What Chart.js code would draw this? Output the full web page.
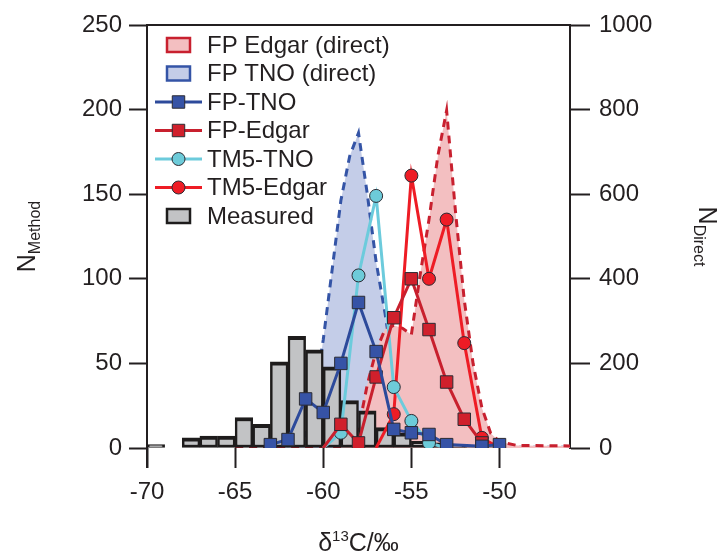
<!DOCTYPE html>
<html><head><meta charset="utf-8">
<script src="https://cdn.jsdelivr.net/npm/chart.js@4.4.1/dist/chart.umd.min.js"></script>
<style>html,body{margin:0;padding:0;background:#fff;}#wrap{width:724px;height:556px;}</style>
</head><body><div id="wrap"><canvas id="c" width="724" height="556"></canvas></div>
<script>
// ---- tick labels ----
const xTicks = [-70, -65, -60, -55, -50];
const yLeftTicks = [0, 50, 100, 150, 200, 250];
const yRightTicks = [0, 200, 400, 600, 800, 1000];

// ---- Measured histogram (1 ‰ bins, centres) ----
const binCenters = [-69.5, -68.5, -67.5, -66.5, -65.5, -64.5, -63.5, -62.5, -61.5, -60.5,
                    -59.5, -58.5, -57.5, -56.5, -55.5, -54.5, -53.5, -52.5, -51.5, -50.5];
const measured   = [2, 0, 6, 7, 7, 18, 14, 51, 66, 58,
                    48, 28, 22, 12, 9, 4, 3, 2, 1, 1];

// ---- method series (left axis) ----
const fpTNOx   = [-63, -62, -61, -60, -59, -58, -57, -56, -55, -54, -53, -51, -50];
const fpTNO    = [2, 5, 29, 21, 50, 86, 57, 11, 9, 8, 2, 1, 2];
const fpEdgarX = [-60, -59, -58, -57, -56, -55, -54, -53, -52, -51];
const fpEdgar  = [0, 14, 3, 42, 77, 100, 70, 39, 17, 3];
const tm5TNOx  = [-60, -59, -58, -57, -56, -55, -54, -53];
const tm5TNO   = [0, 9, 102, 149, 36, 16, 3, 0];
const tm5EdgarX = [-57, -56, -55, -54, -53, -52, -51, -50];
const tm5Edgar  = [0, 20, 161, 100, 135, 62, 6, 0];

// ---- direct series (right axis) ----
const directTNOx = [-65, -63, -62, -61, -60.5, -60, -59.5, -59, -58.5, -58, -57.5, -57, -56.5,
                    -56, -55.5, -55, -54, -53, -52, -50, -46];
const directTNO  = [0, 0, 3, 30, 120, 256, 420, 585, 690, 745, 600, 440, 320,
                    180, 80, 35, 12, 5, 3, 2, 2];
const directEdgarX = [-65, -59, -58.5, -58, -57.5, -57, -56.5, -56, -55.5, -55, -54.5, -54,
                      -53.5, -53, -52.5, -52, -51.5, -51, -50.5, -50, -49, -46];
const directEdgar  = [0, 0, 10, 45, 150, 230, 280, 290, 283, 268, 410, 540,
                      690, 798, 560, 350, 200, 95, 35, 15, 6, 5];

const INK = '#231f20';
const FONT = "'Liberation Sans', Arial, Helvetica, sans-serif";
Chart.defaults.font.family = FONT;
Chart.defaults.font.size = 24;
Chart.defaults.color = INK;

function pts(xs, ys) { return xs.map((x, i) => ({ x: x, y: ys[i] })); }
const hideZero = r => ctx => (ctx.raw && ctx.raw.y === 0) ? 0 : r;

function lineDs(label, xs, ys, color, fillColor, style, r, order) {
  return {
    type: 'line', label: label, data: pts(xs, ys), yAxisID: 'y',
    borderColor: color, borderWidth: 3, backgroundColor: fillColor,
    pointStyle: style, pointRadius: hideZero(r), pointHoverRadius: hideZero(r),
    pointBackgroundColor: fillColor, pointBorderColor: '#2b2b33', pointBorderWidth: 1,
    tension: 0, fill: false, order: order, legendKind: 'line'
  };
}

const datasets = [
  lineDs('FP-TNO', fpTNOx, fpTNO, '#2d4a9b', '#3653a6', 'rect', 8.8, 1),
  lineDs('FP-Edgar', fpEdgarX, fpEdgar, '#c8202e', '#d0202c', 'rect', 8.8, 2),
  lineDs('TM5-TNO', tm5TNOx, tm5TNO, '#6ccbdc', '#6dcbd9', 'circle', 6.5, 3),
  lineDs('TM5-Edgar', tm5EdgarX, tm5Edgar, '#ee1c25', '#ee1c25', 'circle', 6.5, 4),
  {
    type: 'bar', label: 'Measured', data: pts(binCenters, measured), yAxisID: 'y',
    backgroundColor: '#c2c3c5', borderColor: '#1e1c1c',
    borderWidth: { top: 4, left: 2.5, right: 2.5, bottom: 3 }, borderSkipped: false,
    barPercentage: 1, categoryPercentage: 1, order: 5, legendKind: 'box'
  },
  {
    type: 'line', label: 'FP Edgar (direct)', data: pts(directEdgarX, directEdgar), yAxisID: 'y2',
    borderColor: '#c8202f', borderWidth: 3, borderDash: [8, 6], backgroundColor: '#f3bfc1',
    fill: 'origin', pointRadius: 0, tension: 0, order: 6, legendKind: 'box'
  },
  {
    type: 'line', label: 'FP TNO (direct)', data: pts(directTNOx, directTNO), yAxisID: 'y2',
    borderColor: '#3454a6', borderWidth: 3, borderDash: [8, 6], backgroundColor: '#c4cde8',
    fill: 'origin', pointRadius: 0, tension: 0, order: 7, legendKind: 'box'
  }
];

const legendOrder = ['FP Edgar (direct)', 'FP TNO (direct)', 'FP-TNO', 'FP-Edgar', 'TM5-TNO', 'TM5-Edgar', 'Measured'];

function drawMarker(ctx, style, x, y, r, fill, stroke) {
  ctx.fillStyle = fill; ctx.strokeStyle = stroke; ctx.lineWidth = 1;
  ctx.beginPath();
  if (style === 'rect') {
    const s = r * Math.SQRT1_2;
    ctx.rect(x - s, y - s, 2 * s, 2 * s);
  } else {
    ctx.arc(x, y, r, 0, Math.PI * 2);
  }
  ctx.fill(); ctx.stroke();
}

const decor = {
  id: 'decor',
  afterDraw(chart) {
    const ctx = chart.ctx, a = chart.chartArea;
    ctx.save();
    ctx.strokeStyle = INK; ctx.lineWidth = 2;
    ctx.beginPath(); ctx.moveTo(a.left - 1, a.top); ctx.lineTo(a.right + 1, a.top); ctx.stroke();
    ctx.beginPath(); ctx.moveTo(a.left, a.bottom); ctx.lineTo(a.left, a.bottom + 20); ctx.stroke();

    // legend
    ctx.textBaseline = 'middle'; ctx.textAlign = 'left';
    ctx.font = '24px ' + FONT;
    legendOrder.forEach((lab, i) => {
      const ds = chart.data.datasets.find(d => d.label === lab);
      const cy = a.top + 20 + i * 28.5;
      if (ds.legendKind === 'box') {
        ctx.fillStyle = ds.backgroundColor; ctx.strokeStyle = ds.borderColor;
        ctx.lineWidth = 2.5;
        ctx.fillRect(a.left + 20, cy - 7, 23, 14);
        ctx.strokeRect(a.left + 20, cy - 7, 23, 14);
      } else {
        ctx.strokeStyle = ds.borderColor; ctx.lineWidth = 3; ctx.setLineDash([]);
        ctx.beginPath(); ctx.moveTo(a.left + 8, cy); ctx.lineTo(a.left + 55, cy); ctx.stroke();
        drawMarker(ctx, ds.pointStyle, a.left + 31.5, cy, ds.pointStyle === 'rect' ? 8.8 : 6.5,
                   ds.pointBackgroundColor, ds.pointBorderColor);
      }
      ctx.fillStyle = INK;
      ctx.fillText(lab, a.left + 60, cy + 1);
    });

    // axis titles
    ctx.fillStyle = INK; ctx.textBaseline = 'alphabetic';
    function subText(main, sub, mainSize, subSize, drop) {
      ctx.font = mainSize + 'px ' + FONT; const w1 = ctx.measureText(main).width;
      ctx.font = subSize + 'px ' + FONT; const w2 = ctx.measureText(sub).width;
      const x0 = -(w1 + w2) / 2;
      ctx.font = mainSize + 'px ' + FONT; ctx.fillText(main, x0, 0);
      ctx.font = subSize + 'px ' + FONT; ctx.fillText(sub, x0 + w1, drop);
    }
    const cy = (a.top + a.bottom) / 2;
    ctx.save(); ctx.translate(35, cy); ctx.rotate(-Math.PI / 2);
    subText('N', 'Method', 25, 16, 5); ctx.restore();
    ctx.save(); ctx.translate(699, cy); ctx.rotate(Math.PI / 2);
    subText('N', 'Direct', 25, 16, 5); ctx.restore();

    // x title: δ13C/‰
    ctx.save();
    ctx.font = '25px ' + FONT; const wd = ctx.measureText('\u03B4').width;
    const wc = ctx.measureText('C/\u2030').width;
    ctx.font = '15px ' + FONT; const ws = ctx.measureText('13').width;
    const cx = (a.left + a.right) / 2;
    let x = cx - (wd + ws + wc) / 2;
    const by = 551;
    ctx.font = '25px ' + FONT; ctx.fillText('\u03B4', x, by); x += wd;
    ctx.font = '15px ' + FONT; ctx.fillText('13', x, by - 10); x += ws;
    ctx.font = '25px ' + FONT; ctx.fillText('C/\u2030', x, by);
    ctx.restore();
    ctx.restore();
  }
};

const gridOpts = len => ({ display: true, drawOnChartArea: false, drawTicks: true, tickLength: len,
                           tickColor: INK, tickWidth: 2, color: INK, offset: false });

new Chart(document.getElementById('c'), {
  type: 'line',
  data: { datasets: datasets },
  options: {
    responsive: false, animation: false, devicePixelRatio: 1,
    layout: { padding: { top: 25, left: 0, right: 0, bottom: 0 } },
    plugins: { legend: { display: false }, tooltip: { enabled: false } },
    scales: {
      x: {
        type: 'linear', min: -70, max: -46, offset: false,
        afterBuildTicks: s => { s.ticks = xTicks.map(v => ({ value: v })); },
        grid: gridOpts(20), border: { display: false },
        ticks: { padding: 10, maxRotation: 0, autoSkip: false, callback: v => String(v) },
        afterFit: s => { s.height = 108; }
      },
      y: {
        type: 'linear', position: 'left', min: 0, max: 250,
        afterBuildTicks: s => { s.ticks = yLeftTicks.map(v => ({ value: v })); },
        grid: gridOpts(18), border: { display: true, color: INK, width: 2 },
        ticks: { padding: 7, callback: v => String(v) },
        afterFit: s => { s.width = 147; }
      },
      y2: {
        type: 'linear', position: 'right', min: 0, max: 1000,
        afterBuildTicks: s => { s.ticks = yRightTicks.map(v => ({ value: v })); },
        grid: gridOpts(20), border: { display: true, color: INK, width: 2 },
        ticks: { padding: 9, callback: v => String(v) },
        afterFit: s => { s.width = 154; }
      }
    }
  },
  plugins: [decor]
});
</script>
</body></html>
